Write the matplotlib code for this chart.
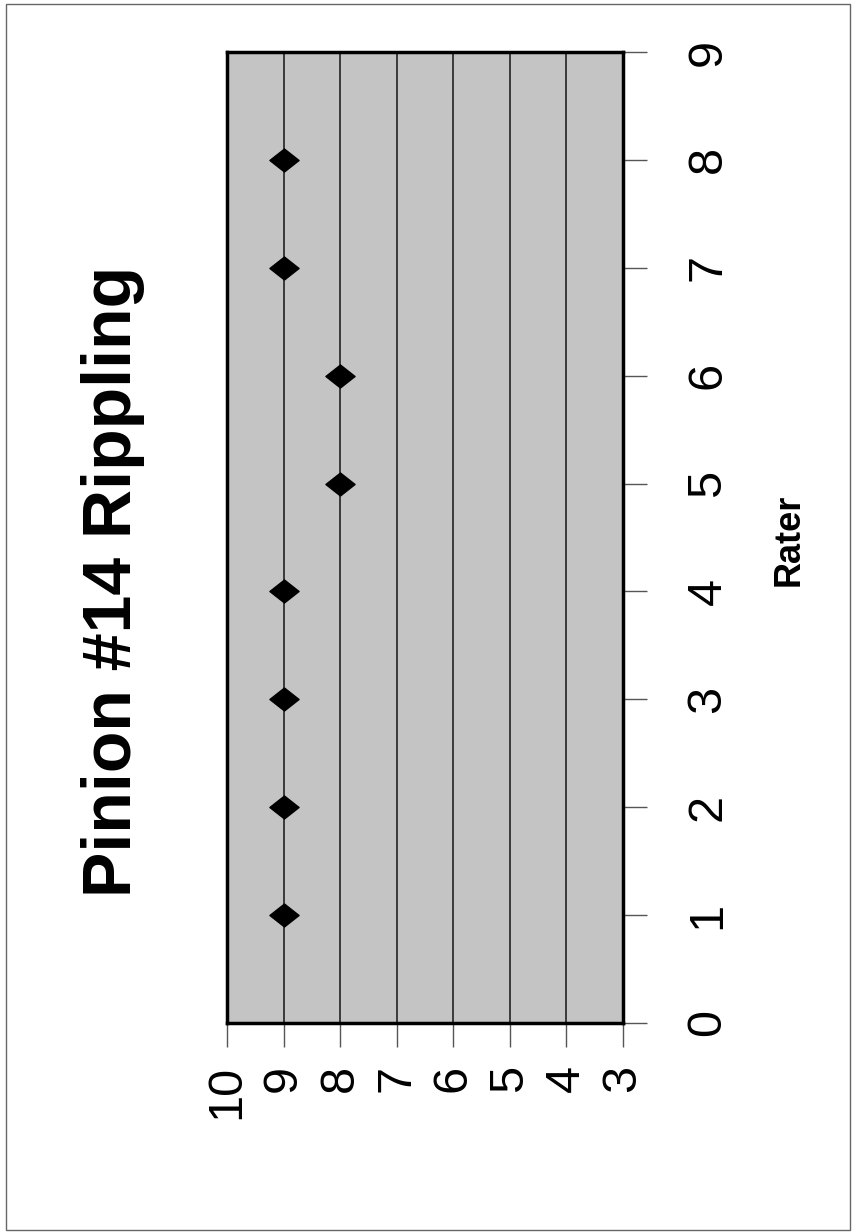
import matplotlib
matplotlib.use('Agg')
import matplotlib.pyplot as plt
from matplotlib.path import Path
from matplotlib.patches import Rectangle

# ratings given by each rater
raters = [1, 2, 3, 4, 5, 6, 7, 8]
ratings = [9, 9, 9, 9, 8, 8, 9, 9]
rating_ticks = [10, 9, 8, 7, 6, 5, 4, 3]
rater_ticks = [0, 1, 2, 3, 4, 5, 6, 7, 8, 9]

plt.rcParams['font.family'] = ['Liberation Sans', 'DejaVu Sans']

W, H = 852, 1232
fig = plt.figure(figsize=(W / 100, H / 100), dpi=100)
# chart is laid out sideways: rating runs left->right, rater bottom->top
ax = fig.add_axes([227 / W, 1 - 1023 / H, 396 / W, 971 / H])
ax.set_facecolor('#c4c4c4')

diamond = Path([(-1.27, 0), (0, 1), (1.27, 0), (0, -1), (-1.27, 0)],
               [Path.MOVETO, Path.LINETO, Path.LINETO, Path.LINETO, Path.CLOSEPOLY])
ax.plot(ratings, raters, linestyle='none', marker=diamond, markersize=21,
        color='black', zorder=3)

ax.set_xlim(10, 3)
ax.set_ylim(0, 9)
ax.set_xticks(rating_ticks)
ax.set_xticklabels([str(v) for v in rating_ticks], rotation=90, fontsize=35)
ax.yaxis.tick_right()
ax.set_yticks(rater_ticks)
ax.set_yticklabels([str(v) for v in rater_ticks], rotation=90, fontsize=35,
                   va='center')
ax.tick_params(axis='x', length=17, width=1, color='#555555', pad=13)
ax.tick_params(axis='y', length=17, width=1, color='#555555', pad=28)
ax.grid(axis='x', color='#222222', lw=1.2)
ax.set_axisbelow(True)
for s in ax.spines.values():
    s.set_linewidth(2.5)
    s.set_color('black')

ax.yaxis.set_label_position('right')
ax.set_ylabel('Rater', rotation=90, fontsize=26, fontweight='bold')
ax.yaxis.label.set_va('center')
ax.yaxis.set_label_coords((789 - 227) / 396, (1023 - 540) / 971)

fig.text(113 / W, 1 - 581 / H, 'Pinion #14 Rippling', rotation=90,
         ha='center', va='center', fontsize=49, fontweight='bold')

# page border
fig.add_artist(Rectangle((6 / W, 2 / H), 844 / W, 1226 / H, transform=fig.transFigure,
                         fill=False, ec='#666666', lw=1))

fig.savefig('out.png', dpi=100)
